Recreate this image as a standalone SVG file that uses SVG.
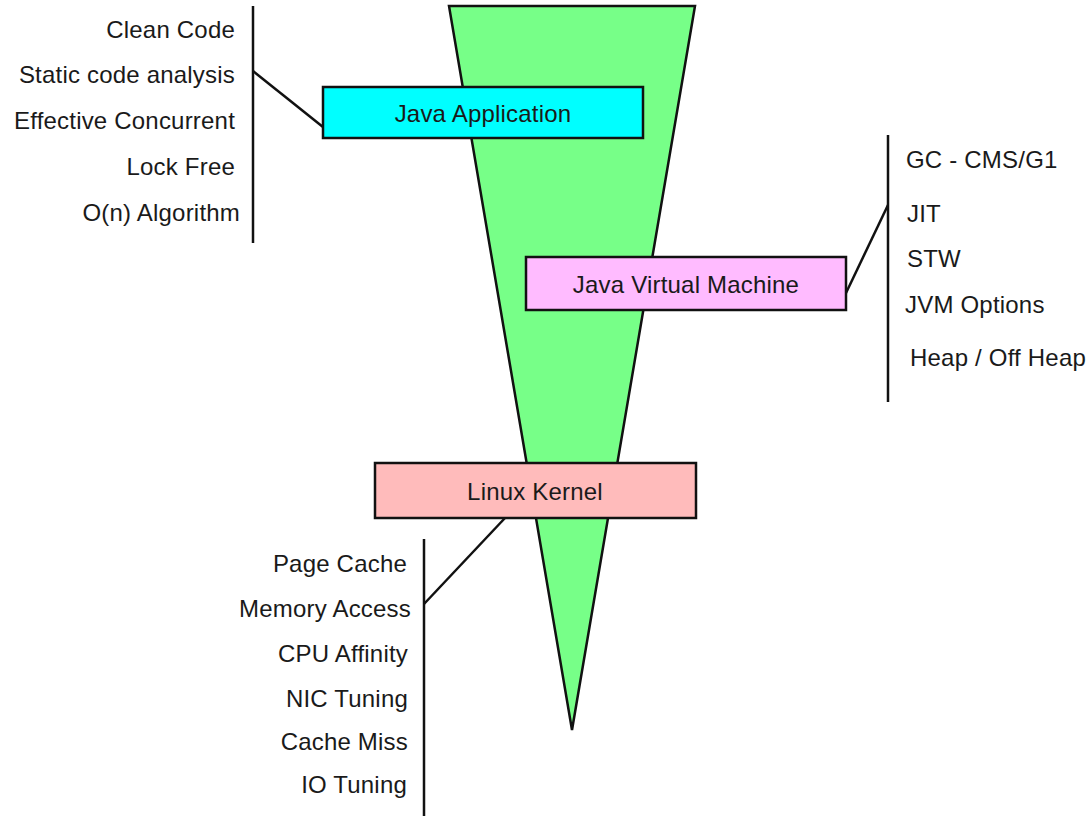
<svg xmlns="http://www.w3.org/2000/svg" width="1091" height="816" viewBox="0 0 1091 816">
<style>
text{font-family:"Liberation Sans",Arial,sans-serif;font-size:24px;letter-spacing:0.2px;fill:#1a1a1a}
.r{text-anchor:end}
.c{text-anchor:middle}
.box{stroke:#111;stroke-width:2.5}
.ln{stroke:#111;stroke-width:2.5;fill:none}
</style>
<rect width="1091" height="816" fill="#fff"/>
<g id="funnel">
<polygon points="449,6 695,6 572,730" fill="#77ff88" stroke="#111" stroke-width="2.5" stroke-linejoin="miter"/>
</g>
<g id="connectors">
<line class="ln" x1="253" y1="6" x2="253" y2="243"/>
<line class="ln" x1="253" y1="71" x2="323" y2="127"/>
<line class="ln" x1="888" y1="135" x2="888" y2="402"/>
<line class="ln" x1="846" y1="293" x2="888" y2="205"/>
<line class="ln" x1="424" y1="539" x2="424" y2="816"/>
<line class="ln" x1="505" y1="518" x2="424" y2="604"/>
</g>
<g id="java-application">
<rect class="box" x="323" y="87" width="320" height="51" fill="#00ffff"/>
<text class="c" x="483" y="122">Java Application</text>
</g>
<g id="jvm">
<rect class="box" x="526" y="257" width="320" height="53" fill="#ffbbff"/>
<text class="c" x="686" y="293">Java Virtual Machine</text>
</g>
<g id="linux-kernel">
<rect class="box" x="375" y="463" width="321" height="55" fill="#ffbbbb"/>
<text class="c" x="535" y="500">Linux Kernel</text>
</g>
<g id="app-items">
<text class="r" x="235" y="38">Clean Code</text>
<text class="r" x="235" y="83">Static code analysis</text>
<text class="r" x="235" y="129">Effective Concurrent</text>
<text class="r" x="235" y="175">Lock Free</text>
<text class="r" x="240" y="221">O(n) Algorithm</text>
</g>
<g id="jvm-items">
<text x="906" y="168">GC - CMS/G1</text>
<text x="907" y="222">JIT</text>
<text x="907" y="267">STW</text>
<text x="905" y="313">JVM Options</text>
<text x="910" y="366">Heap / Off Heap</text>
</g>
<g id="kernel-items">
<text class="r" x="407" y="572">Page Cache</text>
<text class="r" x="411" y="617">Memory Access</text>
<text class="r" x="408" y="662">CPU Affinity</text>
<text class="r" x="408" y="707">NIC Tuning</text>
<text class="r" x="408" y="750">Cache Miss</text>
<text class="r" x="407" y="793">IO Tuning</text>
</g>
</svg>
